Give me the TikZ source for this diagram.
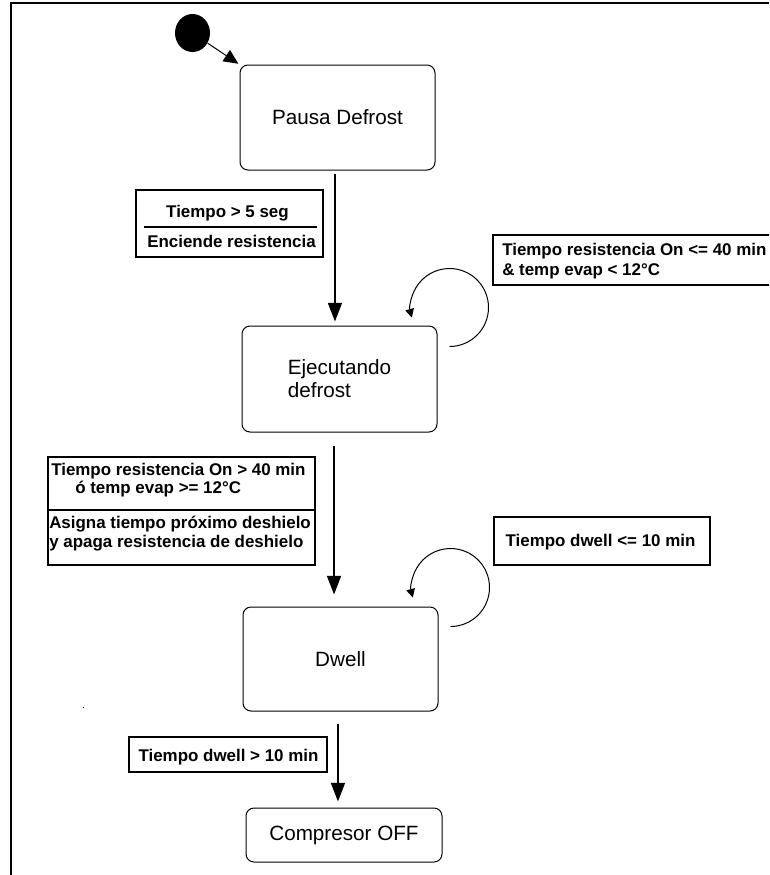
\documentclass[tikz,border=0pt]{standalone}
\usepackage{fontspec}
\setmainfont{Liberation Sans}
\usetikzlibrary{arrows.meta,calc,shapes.geometric}
\begin{document}
\begin{tikzpicture}[x=0.75pt,y=-0.75pt,
  stbox/.style={draw, line width=0.75pt, rounded corners=6pt, minimum width=146.25pt,
    font=\fontsize{15.5}{17.25}\selectfont, align=left, inner sep=0pt},
  lbl/.style={draw, line width=1pt, inner sep=0pt},
  ltxt/.style={font=\bfseries\fontsize{12.7}{15}\selectfont, inner sep=0pt},
  trans/.style={line width=1.2pt, -{Triangle[length=14pt,width=10.5pt]}},
  selfloop/.style={line width=0.75pt, -{Triangle[length=6.5pt,width=6.5pt]}},
  divider/.style={line width=0.8pt},
  frame/.style={line width=1.5pt}
]
\useasboundingbox (0,0) rectangle (769,875);
\clip (0,0) rectangle (769,875);

% frame
\draw[frame] (769,3) -- (11,3) -- (11,875);

% initial state
\node[ellipse, fill, minimum width=26.25pt, minimum height=28.5pt, inner sep=0pt] (init) at (192.5,33) {};

% states
\node[stbox, minimum height=78.75pt] (pausa) at (337.5,117.5) {Pausa Defrost};
\node[stbox, minimum height=79.5pt] (ejec) at (339.5,379) {Ejecutando\\defrost};
\node[stbox, minimum height=78pt] (dwell) at (340.5,659) {Dwell};
\node[stbox, minimum width=147pt, minimum height=40.5pt] (comp) at (344,835) {Compresor OFF};

% transitions
\draw[line width=0.75pt, -{Triangle[length=11pt,width=10pt]}, shorten >=1pt] (init) -- (pausa.north west);
\draw[trans, shorten <=2.25pt, shorten >=3pt]
  ([xshift=-1.9pt]pausa.south) -- ([xshift=-1.9pt]pausa.south |- ejec.north);
\draw[trans, shorten <=9.75pt, shorten >=9pt]
  ([xshift=-4.1pt]ejec.south) -- ([xshift=-4.1pt]ejec.south |- dwell.north);
\draw[trans, shorten <=9pt, shorten >=4.5pt]
  ([xshift=-1.9pt]dwell.south) -- ([xshift=-1.9pt]dwell.south |- comp.north);

% self loops
\draw[selfloop] ([xshift=9pt,yshift=-15.75pt]ejec.north east)
  arc[start angle=-90, end angle=195, radius=29.25pt];
\draw[selfloop] ([xshift=9pt,yshift=-15pt]dwell.north east)
  arc[start angle=-90, end angle=195, radius=29.25pt];

% label 1
\node[lbl, minimum width=140.25pt, minimum height=50.25pt] (g1) at (229.5,223.5) {};
\draw[divider] ([xshift=6.75pt,yshift=-2.6pt]g1.west) -- ([xshift=-5.25pt,yshift=-2.6pt]g1.east);
\node[ltxt, anchor=base] (g1a) at (227.5,217) {Tiempo > 5 seg};
\node[ltxt, anchor=base] (g1b) at (231.5,247) {Enciende resistencia};

% label 2
\node[lbl, minimum width=222.75pt, minimum height=37.5pt] (g2) at (641.5,260) {};
\node[ltxt, anchor=base west] (g2a) at (502,255) {Tiempo resistencia On <= 40 min};
\node[ltxt, anchor=base west] (g2b) at (502,275) {\& temp evap < 12°C};

% label 3
\node[lbl, minimum width=200.25pt, minimum height=81pt] (g3) at (181.5,511) {};
\draw[divider] ([xshift=1.5pt,yshift=0.75pt]g3.west) -- ([xshift=-1.5pt,yshift=0.75pt]g3.east);
\node[ltxt, anchor=base west] (g3a) at (51,475) {Tiempo resistencia On > 40 min};
\node[ltxt, anchor=base west] (g3b) at (75,493) {ó temp evap >= 12°C};
\node[ltxt, anchor=base west] (g3c) at (49,528) {Asigna tiempo próximo deshielo};
\node[ltxt, anchor=base west] (g3d) at (49,547) {y apaga resistencia de deshielo};

% label 4
\node[lbl, minimum width=162pt, minimum height=36pt] (g4) at (602,541) {};
\node[ltxt, anchor=base] (g4a) at (600.5,546) {Tiempo dwell <= 10 min};

% label 5
\node[lbl, minimum width=148.5pt, minimum height=26.25pt] (g5) at (228,754.5) {};
\node[ltxt, anchor=base] (g5a) at (228.5,761) {Tiempo dwell > 10 min};

% stray mark
\fill (82.5,706.5) rectangle (84,708);
\end{tikzpicture}
\end{document}
